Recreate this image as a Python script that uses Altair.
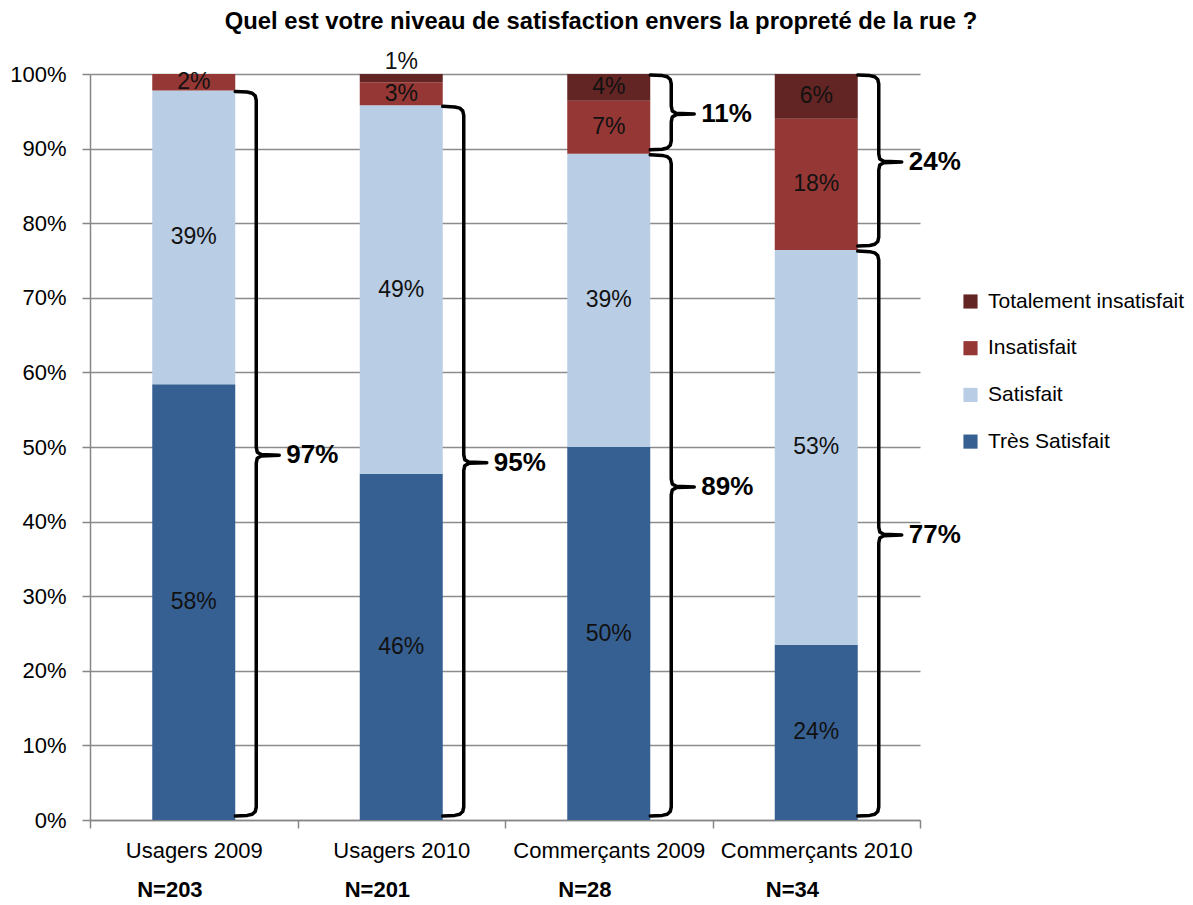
import json
import altair as alt
import pandas as pd

FONT = "Liberation Sans, Arial, sans-serif"

title_text = "Quel est votre niveau de satisfaction envers la propreté de la rue ?"
categories = ["Usagers 2009", "Usagers 2010", "Commerçants 2009", "Commerçants 2010"]
sample_sizes = ["N=203", "N=201", "N=28", "N=34"]
levels = ["Très Satisfait", "Satisfait", "Insatisfait", "Totalement insatisfait"]  # bottom -> top
tres_satisfait = [58.4, 46.4, 50.0, 23.5]
satisfait = [39.4, 49.4, 39.3, 52.9]
insatisfait = [2.2, 3.1, 7.1, 17.6]
totalement = [0.0, 1.1, 3.6, 6.0]
level_colors = ["#376092", "#B9CDE5", "#953735", "#632523"]

# braces: category index, first level, last level, label
brace_cat = [0, 1, 2, 2, 3, 3]
brace_from = [0, 0, 0, 2, 0, 2]
brace_to = [1, 1, 1, 3, 1, 3]
brace_text = ["97%", "95%", "89%", "11%", "77%", "24%"]

W, H = 830, 746
PX_X = 4 / W
PX_Y = 100 / H

series = [tres_satisfait, satisfait, insatisfait, totalement]

seg_rows = []
bounds = []
for i, cat in enumerate(categories):
    cum = 0.0
    b = [0.0]
    for j, lvl in enumerate(levels):
        v = series[j][i]
        if v > 0:
            mid = (cum + v / 2) if v >= 1.5 else (cum + v + 1.6)
            seg_rows.append(dict(cat=cat, x0=i + 0.3, x1=i + 0.7, y0=cum, y1=cum + v,
                                 level=lvl, label=f"{int(v + 0.5)}%", ly=mid, lx=i + 0.5))
        cum += v
        b.append(cum)
    bounds.append(b)
seg = pd.DataFrame(seg_rows)

# brace outline (pixel offsets from anchors: dx right, dy down)
shape = [("top", 0, 0), ("top", 12, 0.6), ("top", 17, 1.8), ("top", 20, 4.5), ("top", 21, 9),
         ("mid", 21, -8), ("mid", 22, -3), ("mid", 26, -0.7), ("mid", 44, 0),
         ("mid", 26, 0.7), ("mid", 22, 3), ("mid", 21, 8),
         ("bot", 21, -9), ("bot", 20, -4.5), ("bot", 17, -1.8), ("bot", 12, -0.6), ("bot", 0, 0)]
brace_rows = []
brace_lab = []
for k in range(len(brace_cat)):
    i = brace_cat[k]
    lo = bounds[i][brace_from[k]]
    hi = bounds[i][brace_to[k] + 1]
    top = hi - 1 * PX_Y
    bot = lo + 4 * PX_Y
    mid = (lo + hi) / 2
    anchors = {"top": top, "mid": mid, "bot": bot}
    x0 = i + 0.7
    for n, (a, dx, dy) in enumerate(shape):
        brace_rows.append(dict(brace=k, order=n, bx=x0 + dx * PX_X, by=anchors[a] - dy * PX_Y))
    brace_lab.append(dict(tx=x0 + 51 * PX_X, ty=mid, text=brace_text[k]))
braces = pd.DataFrame(brace_rows)
blabels = pd.DataFrame(brace_lab)
nlab = pd.DataFrame(dict(nx=[i + 0.385 for i in range(4)], text=sample_sizes))
tdf = pd.DataFrame(dict(t=[title_text]))

legend_order = levels[::-1]
color_range = level_colors[::-1]

xscale = alt.Scale(domain=[0, 4], nice=False, zero=False)
yscale = alt.Scale(domain=[0, 100], nice=False)
cat_js = json.dumps(categories, ensure_ascii=False).replace('"', "'")

xaxis = alt.Axis(values=[v / 2 for v in range(9)], title=None, grid=False,
                 labelExpr=f"datum.value % 1 == 0.5 ? {cat_js}[floor(datum.value)] : ''",
                 labelOverlap=False, labelFlush=False, labelBound=False, labelLimit=0,
                 tickOpacity={"condition": {"test": "datum.value % 1 == 0", "value": 1}, "value": 0},
                 tickSize=8, tickColor="#868686", domainColor="#868686", domainWidth=1.5, tickWidth=1.5,
                 labelFontSize=22, labelColor="#000000", labelPadding=12)
yaxis = alt.Axis(values=list(range(0, 101, 10)), title=None, labelExpr="datum.value + '%'",
                 grid=True, gridColor="#8c8c8c", gridWidth=1.3, tickSize=8, tickColor="#868686",
                 domainColor="#868686", domainWidth=1.5, tickWidth=1.5,
                 labelFontSize=22, labelColor="#000000", labelPadding=16)

bars = alt.Chart(seg).mark_bar(stroke=None).encode(
    x=alt.X("x0:Q", scale=xscale, axis=xaxis),
    x2="x1:Q",
    y=alt.Y("y0:Q", scale=yscale, axis=yaxis),
    y2="y1:Q",
    color=alt.Color("level:N", scale=alt.Scale(domain=legend_order, range=color_range),
                    legend=alt.Legend(orient="none", legendX=870, legendY=217, title=None,
                                      symbolType="square", symbolSize=200, symbolStrokeWidth=0,
                                      labelFontSize=21, labelColor="#000000", rowPadding=24.7,
                                      labelOffset=7, labelLimit=0)),
)

seg_text = alt.Chart(seg).mark_text(fontSize=23, color="#111111", baseline="middle").encode(
    x=alt.X("lx:Q", scale=xscale), y=alt.Y("ly:Q", scale=yscale), text="label:N")

brace_lines = alt.Chart(braces).mark_line(color="#000000", strokeWidth=3.5, strokeJoin="round",
                                          strokeCap="round").encode(
    x=alt.X("bx:Q", scale=xscale), y=alt.Y("by:Q", scale=yscale),
    detail="brace:N", order="order:Q")

brace_text_layer = alt.Chart(blabels).mark_text(fontSize=26, fontWeight="bold", align="left",
                                               baseline="middle", color="#000000").encode(
    x=alt.X("tx:Q", scale=xscale), y=alt.Y("ty:Q", scale=yscale), text="text:N")

n_text = alt.Chart(nlab).mark_text(fontSize=22, fontWeight="bold", baseline="middle",
                                   color="#000000").encode(
    x=alt.X("nx:Q", scale=xscale), y=alt.value(H + 70), text="text:N")

title_layer = alt.Chart(tdf).mark_text(fontSize=23.8, fontWeight="bold", baseline="middle",
                                       align="center", color="#000000").encode(
    x=alt.value(W / 2 + 96), y=alt.value(-52), text="t:N")

chart = alt.layer(bars, seg_text, brace_lines, brace_text_layer, n_text, title_layer).properties(
    width=W, height=H,
    padding={"left": 82, "top": 66, "right": 265, "bottom": 85},
    autosize="none",
).configure(font=FONT).configure_view(stroke=None)

chart.save("out.html", embed_options={"renderer": "svg", "actions": False})
